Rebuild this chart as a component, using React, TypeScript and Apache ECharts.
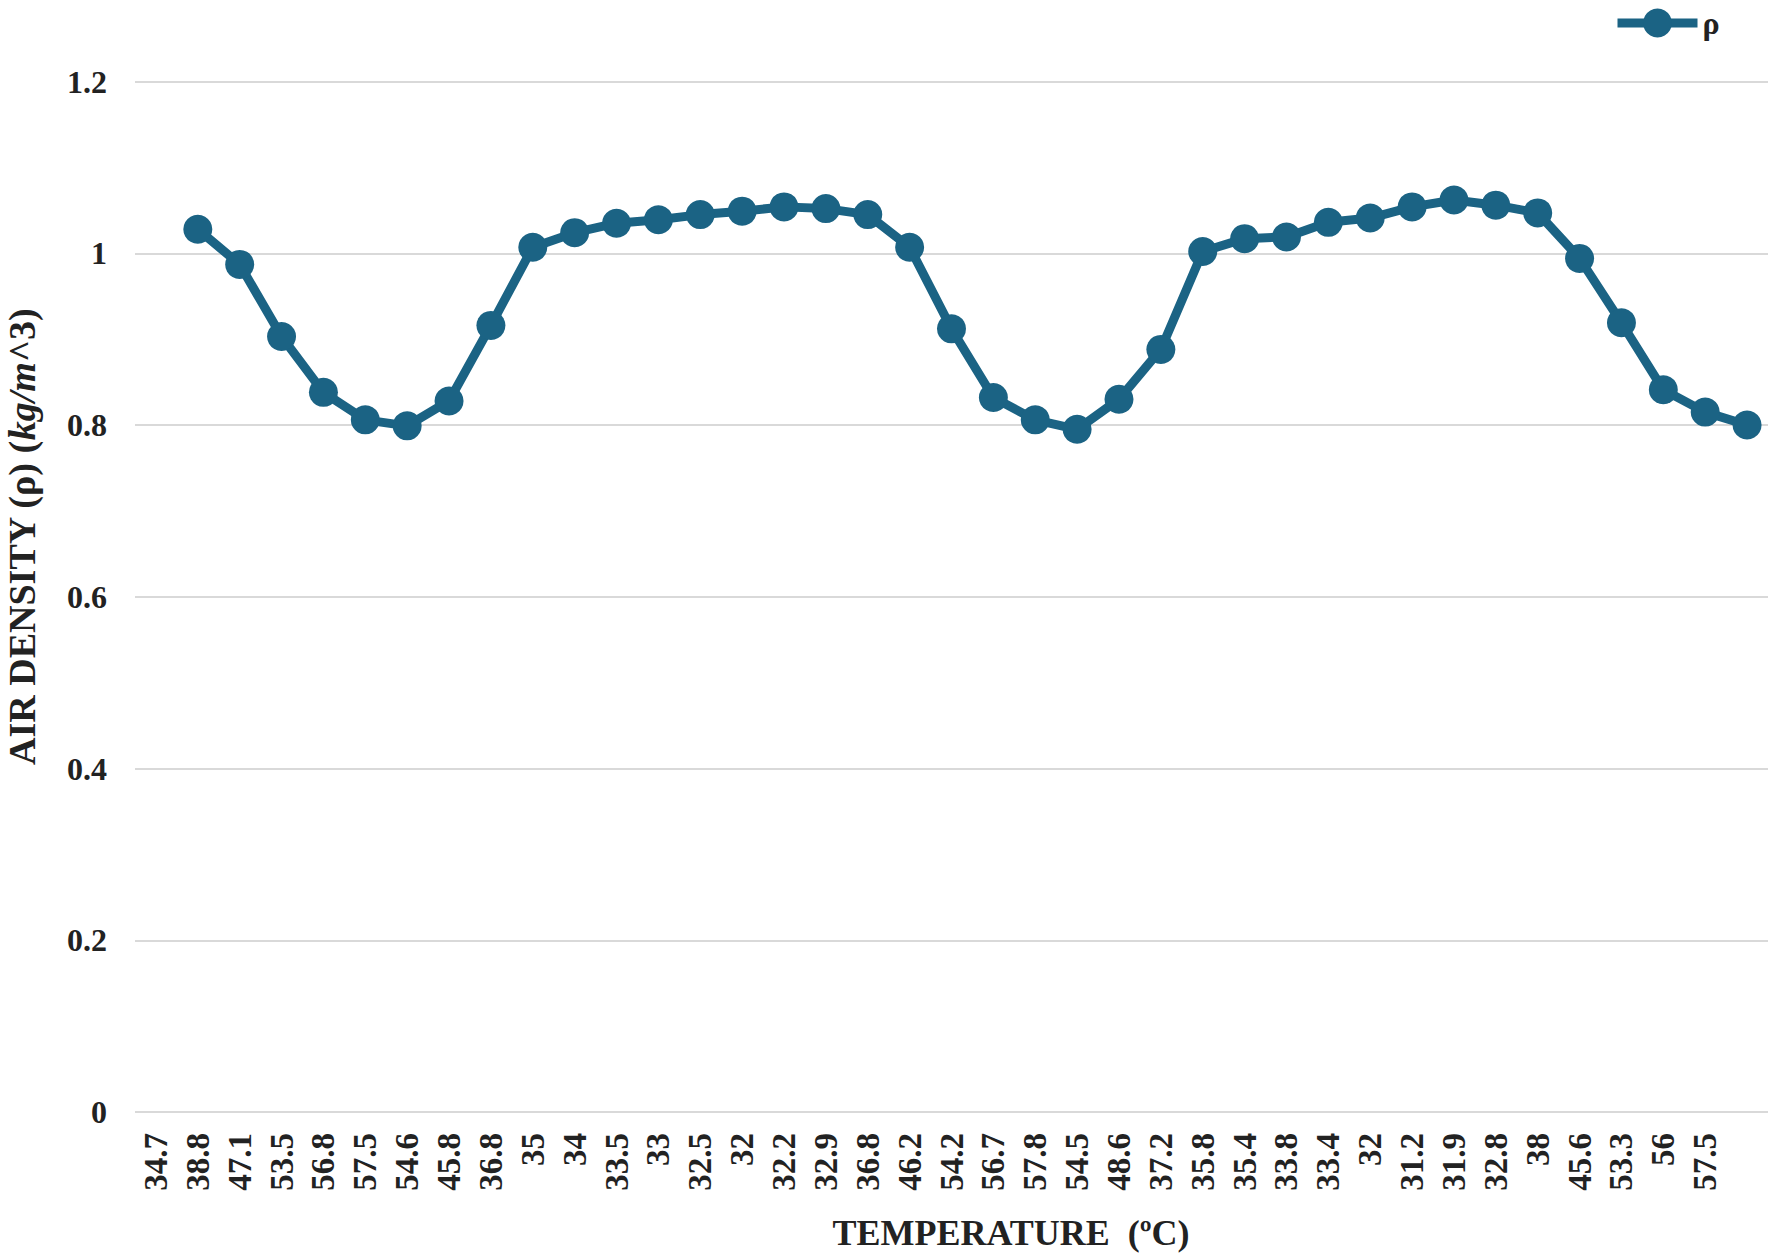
import React, { useEffect, useRef } from "react";
import * as echarts from "echarts";

const categories: string[] = [
  "34.7", "38.8", "47.1", "53.5", "56.8", "57.5", "54.6", "45.8", "36.8", "35",
  "34", "33.5", "33", "32.5", "32", "32.2", "32.9", "36.8", "46.2", "54.2",
  "56.7", "57.8", "54.5", "48.6", "37.2", "35.8", "35.4", "33.8", "33.4", "32",
  "31.2", "31.9", "32.8", "38", "45.6", "53.3", "56", "57.5", "",
];

const density: (number | null)[] = [
  null, 1.028, 0.987, 0.903, 0.838, 0.806, 0.799, 0.828, 0.916, 1.007,
  1.024, 1.035, 1.039, 1.045, 1.049, 1.054, 1.052, 1.045, 1.007, 0.912,
  0.832, 0.806, 0.795, 0.83, 0.888, 1.002, 1.017, 1.019, 1.036, 1.041,
  1.054, 1.062, 1.056, 1.047, 0.994, 0.919, 0.841, 0.815, 0.8,
];

const yTicks = { min: 0, max: 1.2, interval: 0.2 };

const FONT = "'Liberation Serif', 'Times New Roman', serif";
const COLOR = "#1b6384";
const TEXT = "#222222";

export default function App() {
  const ref = useRef<HTMLDivElement>(null);

  useEffect(() => {
    document.body.style.margin = "0";
    if (!ref.current) return;
    const chart = echarts.init(ref.current, null, { renderer: "svg" });
    chart.setOption({
      animation: false,
      backgroundColor: "#ffffff",
      grid: { left: 135, right: 3, top: 81.5, bottom: 145, containLabel: false },
      legend: {
        data: ["ρ"],
        left: 1608,
        top: 2,
        itemWidth: 80,
        itemHeight: 36,
        lineStyle: { width: 9 },
        textStyle: { fontFamily: FONT, fontWeight: "bold", fontSize: 32, color: TEXT },
      },
      xAxis: {
        type: "category",
        data: categories,
        boundaryGap: true,
        axisLine: { show: false },
        axisTick: { show: false },
        axisLabel: {
          interval: 0,
          rotate: 90,
          margin: 21,
          fontFamily: FONT,
          fontWeight: "bold",
          fontSize: 33,
          color: TEXT,
        },
      },
      yAxis: {
        type: "value",
        min: yTicks.min,
        max: yTicks.max,
        interval: yTicks.interval,
        axisLine: { show: false },
        axisTick: { show: false },
        splitLine: { lineStyle: { color: "#d9d9d9", width: 2 } },
        axisLabel: {
          margin: 28,
          fontFamily: FONT,
          fontWeight: "bold",
          fontSize: 32,
          color: TEXT,
        },
      },
      graphic: [
        {
          type: "text",
          x: 1011,
          y: 1233,
          style: {
            text: "TEMPERATURE  (ºC)",
            fontFamily: FONT,
            fontWeight: "bold",
            fontSize: 36,
            fill: TEXT,
            align: "center",
            verticalAlign: "middle",
          },
        },
        {
          type: "text",
          x: 22,
          y: 537,
          rotation: Math.PI / 2,
          style: {
            text: "{b|AIR DENSITY (ρ) (}{i|kg/m}{b|^3)}",
            align: "center",
            verticalAlign: "middle",
            rich: {
              b: { fontFamily: FONT, fontWeight: "bold", fontSize: 38, fill: TEXT },
              i: { fontFamily: FONT, fontWeight: "bold", fontStyle: "italic", fontSize: 38, fill: TEXT },
            },
          },
        },
      ],
      series: [
        {
          name: "ρ",
          type: "line",
          data: density,
          symbol: "circle",
          symbolSize: 29,
          connectNulls: false,
          lineStyle: { color: COLOR, width: 9 },
          itemStyle: { color: COLOR },
        },
      ],
    });
    return () => chart.dispose();
  }, []);

  return (
    <div
      ref={ref}
      style={{ position: "absolute", left: 0, top: 0, width: 1771, height: 1257 }}
    />
  );
}
